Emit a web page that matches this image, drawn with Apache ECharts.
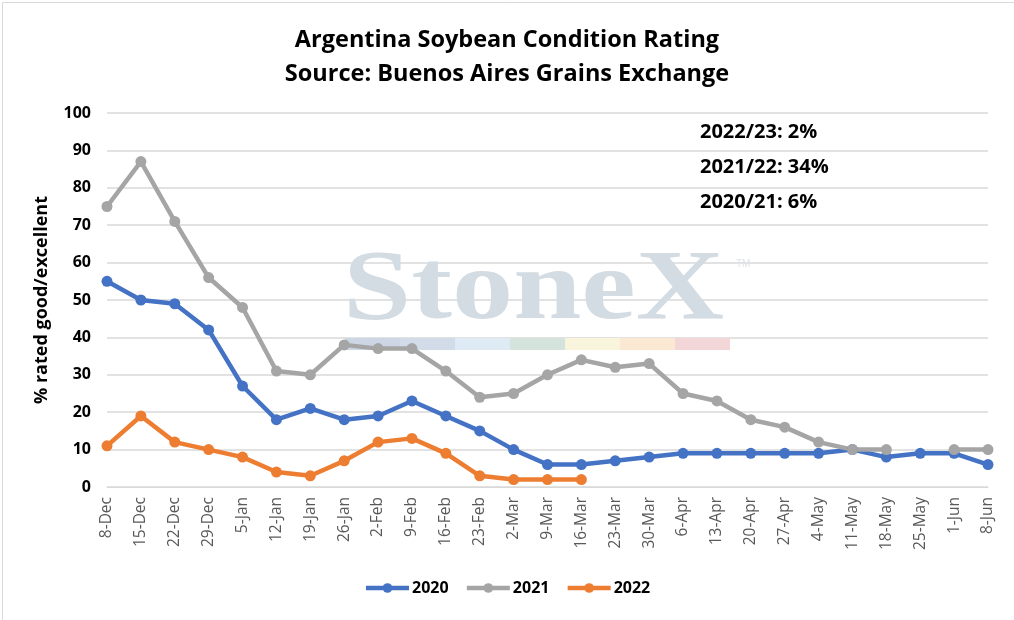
<!DOCTYPE html>
<html>
<head>
<meta charset="utf-8">
<script src="https://cdn.jsdelivr.net/npm/echarts@6/dist/echarts.min.js"></script>
<style>
  html, body { margin: 0; padding: 0; background: #fff; }
  #chart { width: 1014px; height: 620px; }
</style>
</head>
<body>
<div id="chart"></div>
<script>
// weekly report dates
const weeks = ["8-Dec", "15-Dec", "22-Dec", "29-Dec", "5-Jan", "12-Jan", "19-Jan", "26-Jan",
  "2-Feb", "9-Feb", "16-Feb", "23-Feb", "2-Mar", "9-Mar", "16-Mar", "23-Mar", "30-Mar",
  "6-Apr", "13-Apr", "20-Apr", "27-Apr", "4-May", "11-May", "18-May", "25-May", "1-Jun", "8-Jun"];

const y2020 = [55, 50, 49, 42, 27, 18, 21, 18, 19, 23, 19, 15, 10, 6, 6, 7, 8, 9, 9, 9, 9, 9, 10, 8, 9, 9, 6];
const y2021 = [75, 87, 71, 56, 48, 31, 30, 38, 37, 37, 31, 24, 25, 30, 34, 32, 33, 25, 23, 18, 16, 12, 10, 10, null, 10, 10];
const y2022 = [11, 19, 12, 10, 8, 4, 3, 7, 12, 13, 9, 3, 2, 2, 2];

const notes = ["2022/23: 2%", "2021/22: 34%", "2020/21: 6%"];
const stripeColors = ["#ccd6e4", "#d2dce8", "#deeaf4", "#d4e4dc", "#f9f4dc", "#fae8d3", "#f3d6d7"];

var myChart = echarts.init(document.getElementById("chart"));

const font = "'Open Sans', 'Noto Sans', sans-serif";

function lineSeries(name, data, color) {
  return {
    name: name,
    type: "line",
    data: data,
    symbol: "circle",
    symbolSize: 11,
    connectNulls: false,
    z: 5,
    itemStyle: { color: color },
    lineStyle: { color: color, width: 4.5 },
  };
}

// watermark + annotations
const graphics = [
  { type: "rect", left: 0, top: 0, shape: { width: 1013, height: 619 },
    style: { fill: "none", stroke: "#d9d9d9", lineWidth: 1 }, z: 0 },
  { type: "text", x: 343, y: 242, z: 1, scaleX: 1.25, scaleY: 1.02,
    style: { text: "StoneX", fill: "#d3dbe3", font: "bold 98px 'Liberation Serif', serif" } },
  { type: "text", left: 736, top: 259, z: 1,
    style: { text: "TM", fill: "#dde3e9", font: "10px sans-serif" } },
];
stripeColors.forEach((c, i) => {
  graphics.push({ type: "rect", left: 345 + i * 55, top: 338, z: 1,
    shape: { width: 55, height: 12 }, style: { fill: c } });
});
notes.forEach((t, i) => {
  graphics.push({ type: "text", left: 700, top: 122 + i * 35, z: 10,
    style: { text: t, fill: "#000", font: "bold 20px " + font } });
});

var option = {
  backgroundColor: "#fff",
  animation: false,
  title: {
    text: "Argentina Soybean Condition Rating\nSource: Buenos Aires Grains Exchange",
    left: "center",
    top: 18,
    textStyle: { fontFamily: font, fontSize: 23.5, fontWeight: "bold", color: "#000", lineHeight: 34 },
  },
  legend: {
    bottom: 19,
    left: "center",
    itemWidth: 43,
    itemHeight: 12,
    itemGap: 16,
    lineStyle: { width: 4.5 },
    textStyle: { fontFamily: font, fontSize: 16, fontWeight: "bold", color: "#000", padding: [0, 0, 0, -2] },
    data: ["2020", "2021", "2022"],
  },
  grid: { left: 107, right: 26, top: 113, bottom: 133 },
  xAxis: {
    type: "category",
    data: weeks,
    boundaryGap: false,
    axisLine: { lineStyle: { color: "#d9d9d9" } },
    axisTick: { show: false },
    axisLabel: { rotate: 90, fontFamily: font, fontSize: 15.5, color: "#595959", margin: 10, interval: 0 },
  },
  yAxis: {
    type: "value",
    min: 0,
    max: 100,
    interval: 10,
    name: "% rated good/excellent",
    nameLocation: "middle",
    nameGap: 56,
    nameTextStyle: { fontFamily: font, fontSize: 18, fontWeight: "bold", color: "#000" },
    axisLabel: { fontFamily: font, fontSize: 16, fontWeight: "bold", color: "#000", margin: 16 },
    splitLine: { lineStyle: { color: "#d9d9d9", width: 1.5 } },
  },
  graphic: graphics,
  series: [
    lineSeries("2020", y2020, "#4472c4"),
    lineSeries("2021", y2021, "#a5a5a5"),
    lineSeries("2022", y2022, "#ed7d31"),
  ],
};

myChart.setOption(option);
</script>
</body>
</html>
